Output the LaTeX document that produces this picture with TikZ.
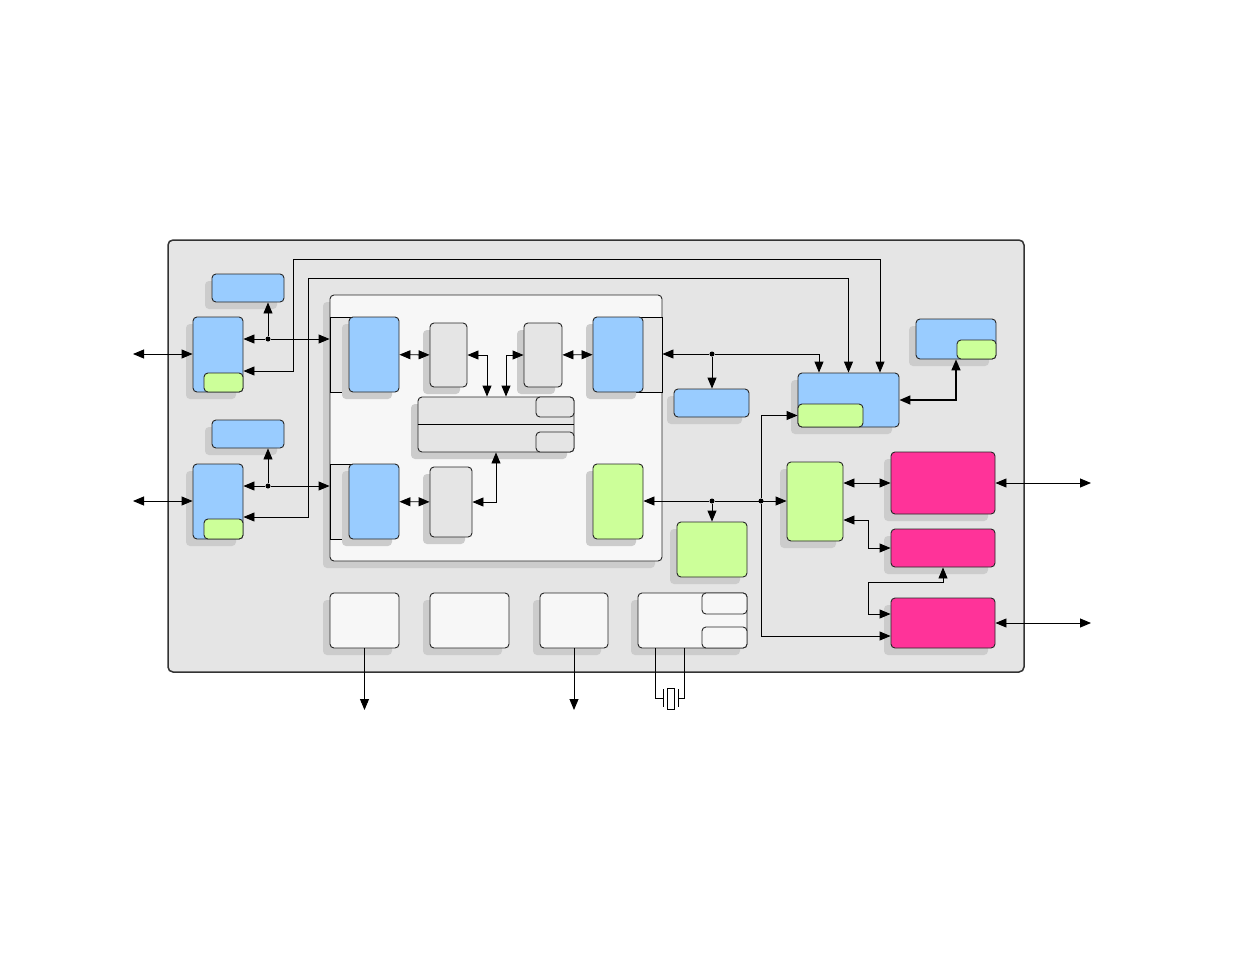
\documentclass[tikz,border=0pt]{standalone}
\usepackage{xcolor}
\usepackage{tikz}
\usetikzlibrary{arrows.meta,shadows,calc}

\definecolor{blueblk}{HTML}{99CCFF}
\definecolor{greenblk}{HTML}{CCFF99}
\definecolor{pinkblk}{HTML}{FF3399}
\definecolor{grayblk}{HTML}{E5E5E5}
\definecolor{whiteblk}{HTML}{F7F7F7}
\definecolor{shade}{HTML}{CCCCCC}

\begin{document}
\begin{tikzpicture}[x=1pt, y=-1pt,
    box/.style={rectangle, draw=black!85, line width=0.9pt, rounded corners=4pt, inner sep=0pt, drop shadow={shadow xshift=-7pt, shadow yshift=-7pt, fill=shade, opacity=1}},
    sub/.style={rectangle, draw=black!85, line width=0.9pt, rounded corners=4pt, inner sep=0pt},
    band/.style={rectangle, draw=black, line width=0.9pt, fill=grayblk, inner sep=0pt},
    wh/.style 2 args={minimum width=#1pt, minimum height=#2pt},
    dot/.style={circle, fill=black, inner sep=0pt, minimum size=5pt},
    arrow/.style={draw, line width=0.9pt, -{Triangle[length=11pt,width=9pt]}},
    biarrow/.style={draw, line width=0.9pt, {Triangle[length=11pt,width=9pt]}-{Triangle[length=11pt,width=9pt]}}
]
    \useasboundingbox (0,0) rectangle (1235,954);
    % chip outline
    \node[rectangle, draw=black!80, line width=1.5pt, fill=grayblk, rounded corners=5pt, wh={856}{432}] (chip) at (596,456) {};
    \node[box, fill=whiteblk, wh={332}{266}] (core) at (496,428) {};
    % left ports
    \node[box, fill=blueblk, wh={72}{28}] (memA) at (248,288) {};
    \node[box, fill=blueblk, wh={50}{75}] (portA) at (218,354.5) {};
    \node[sub, fill=greenblk, wh={39}{19}] (portAsub) at (223.5,382.5) {};
    \node[box, fill=blueblk, wh={72}{28}] (memB) at (248,434) {};
    \node[box, fill=blueblk, wh={50}{75}] (portB) at (218,501.5) {};
    \node[sub, fill=greenblk, wh={39}{20}] (portBsub) at (223.5,529) {};
    % core contents
    \node[band, wh={35}{75}] (bandA) at (347.5,354.5) {};
    \node[band, wh={35}{75}] (bandC) at (347.5,501.5) {};
    \node[band, wh={34}{75}] (bandB) at (645,354.5) {};
    \node[box, fill=blueblk, wh={50}{75}] (busA) at (374,354.5) {};
    \node[box, fill=blueblk, wh={50}{75}] (busC) at (374,501.5) {};
    \node[box, fill=blueblk, wh={50}{75}] (busB) at (618,354.5) {};
    \node[box, fill=grayblk, wh={37}{64}] (fifoA) at (448.5,355) {};
    \node[box, fill=grayblk, wh={38}{64}] (fifoB) at (543,355) {};
    \node[box, fill=grayblk, wh={42}{70}] (fifoC) at (451,502) {};
    \node[box, fill=grayblk, wh={156}{55}] (regs) at (496,424.5) {};
    \draw[line width=0.9pt] (regs.west) -- (regs.east);
    \node[sub, fill=grayblk, wh={38}{20}] (regsA) at (555,407) {};
    \node[sub, fill=grayblk, wh={38}{20}] (regsB) at (555,442) {};
    \node[box, fill=greenblk, wh={50}{75}] (gpio) at (618,501.5) {};
    % middle and right
    \node[box, fill=blueblk, wh={75}{28}] (timer) at (711.5,403) {};
    \node[box, fill=greenblk, wh={70}{55}] (gpioB) at (712,549.5) {};
    \node[box, fill=blueblk, wh={101}{54}] (ctrl) at (848.5,400) {};
    \node[sub, fill=greenblk, wh={65}{23}] (ctrlsub) at (830.5,415.5) {};
    \node[box, fill=blueblk, wh={80}{40}] (cfg) at (956,339) {};
    \node[sub, fill=greenblk, wh={39}{19}] (cfgsub) at (976.5,349.5) {};
    \node[box, fill=greenblk, wh={56}{79}] (mux) at (815,501.5) {};
    \node[box, fill=pinkblk, wh={104}{62}] (phyA) at (943,483) {};
    \node[box, fill=pinkblk, wh={104}{38}] (phyB) at (943,548) {};
    \node[box, fill=pinkblk, wh={104}{50}] (phyC) at (943,623) {};
    % bottom row
    \node[box, fill=whiteblk, wh={69}{55}] (pwrA) at (364.5,620.5) {};
    \node[box, fill=whiteblk, wh={79}{55}] (pwrB) at (469.5,620.5) {};
    \node[box, fill=whiteblk, wh={68}{55}] (pwrC) at (574,620.5) {};
    \node[box, fill=whiteblk, wh={109}{55}] (clk) at (692.5,620.5) {};
    \node[sub, fill=whiteblk, wh={45}{21}] (clkA) at (724.5,603.5) {};
    \node[sub, fill=whiteblk, wh={45}{21}] (clkB) at (724.5,637.5) {};

    % junctions and free ends
    \node[dot] (dotA) at (268,339) {};
    \node[dot] (dotB) at (268,486) {};
    \node[dot] (dotC) at (712,354) {};
    \node[dot] (dotD) at (712,501) {};
    \node[dot] (dotE) at (761,501) {};
    \coordinate (extL1) at (133,354);
    \coordinate (extL2) at (133,501);
    \coordinate (extR1) at (1091,483);
    \coordinate (extR2) at (1091,623);
    \coordinate (outA) at (365,710);
    \coordinate (outC) at (574,710);
    \coordinate (jA) at (293,371);
    \coordinate (jB) at (293,259);
    \coordinate (jC) at (308,517);
    \coordinate (jD) at (308,278);
    \coordinate (kA) at (868,520);
    \coordinate (kB) at (868,582);

    % left side
    \path [biarrow] (extL1) -- (extL1 -| portA.west);
    \path [biarrow] (extL2) -- (extL2 -| portB.west);
    \path [arrow] (dotA) -- (dotA -| portA.east);
    \path [arrow] (dotA) -- (dotA |- memA.south);
    \path [arrow] (dotA) -- (dotA -| core.west);
    \path [arrow] (dotB) -- (dotB -| portB.east);
    \path [arrow] (dotB) -- (dotB |- memB.south);
    \path [arrow] (dotB) -- (dotB -| core.west);
    \draw [biarrow] (jA -| portA.east) -- (jA) -- (jB) -| ([xshift=31.5pt]ctrl.north);
    \draw [biarrow] (jC -| portB.east) -- (jC) -- (jD) -| (ctrl.north);
    % core
    \path [biarrow] (busA) -- (fifoA);
    \path [biarrow] (fifoB) -- (busB);
    \path [biarrow] (busC) -- (fifoC);
    \draw [biarrow] (fifoA.east) -| ([xshift=-9pt]regs.north);
    \draw [biarrow] ([xshift=10pt]regs.north) |- (fifoB.west);
    \draw [biarrow] (fifoC.east) -| (regs.south);
    % middle
    \path [arrow] (dotC) -- (dotC -| core.east);
    \path [arrow] (dotC) -- (dotC |- timer.north);
    \draw [arrow] (dotC) -| ([xshift=-29.5pt]ctrl.north);
    \path [arrow] (dotD) -- (dotD -| gpio.east);
    \path [arrow] (dotD) -- (dotD |- gpioB.north);
    \path [arrow] (dotD) -- (dotD -| mux.west);
    \draw [arrow] (dotE) |- (ctrlsub.west);
    \draw [arrow] (dotE) |- ([yshift=-13pt]phyC.west);
    \draw [biarrow, line width=1.6pt] (ctrl.east) -| (cfg.south);
    % right
    \path [biarrow] (phyA.west -| mux.east) -- (phyA.west);
    \draw [biarrow] (kA -| mux.east) -- (kA) |- (phyB.west);
    \draw [biarrow] (phyB.south) |- (kB) |- ([yshift=9pt]phyC.west);
    \path [biarrow] (phyA.east) -- (extR1);
    \path [biarrow] (phyC.east) -- (extR2);
    % bottom
    \path [arrow] (pwrA.south) -- (pwrA.south |- outA);
    \path [arrow] (pwrC.south) -- (pwrC.south |- outC);
    % crystal
    \draw[line width=0.9pt] (655,648) -- (655,698) -- (663,698);
    \draw[line width=0.9pt] (684,648) -- (684,698) -- (678,698);
    \draw[line width=0.9pt] (663,689) -- (663,707);
    \draw[line width=0.9pt] (678,689) -- (678,707);
    \draw[line width=0.9pt, fill=white] (667,688) rectangle (674,709);
\end{tikzpicture}
\end{document}
